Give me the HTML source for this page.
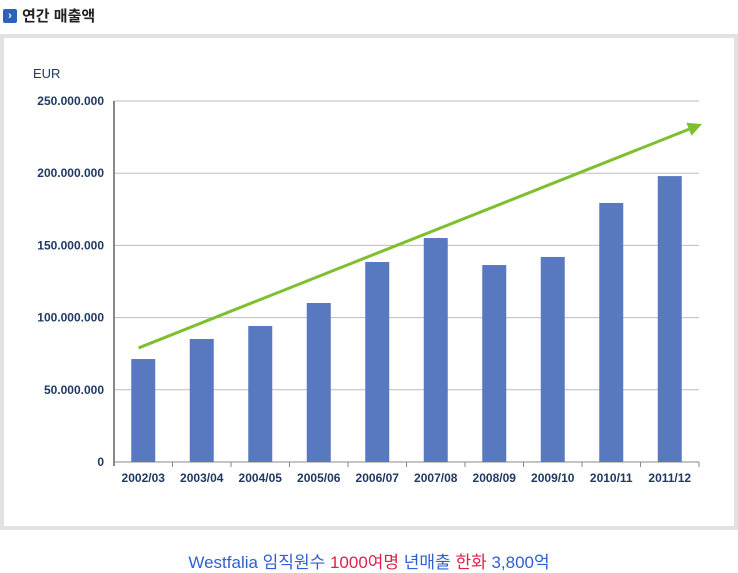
<!DOCTYPE html>
<html><head><meta charset="utf-8"><style>
body{margin:0;width:738px;height:569px;background:#fff;font-family:"Liberation Sans","Noto Sans CJK KR",sans-serif;position:relative;overflow:hidden}
.title{position:absolute;left:3px;top:5px;font-size:15px;font-weight:bold;color:#222;display:flex;align-items:center}
.icon{width:14px;height:14px;background:#2a64b8;border-radius:2px;color:#fff;font-size:11px;line-height:14px;text-align:center;margin-right:5px}
.frame{position:absolute;left:0;top:34px;width:730px;height:488px;border:4px solid #e2e2e2;background:#fff}
.caption{position:absolute;top:548px;width:738px;text-align:center;font-size:17px}
</style></head><body>
<div class="title"><span class="icon">›</span>연간 매출액</div>
<div class="frame"></div>
<svg id="chart" width="738" height="569" style="position:absolute;left:0;top:0"></svg>
<div class="caption"><span style="color:#2f5fd0">Westfalia 임직원수 </span><span style="color:#e0204a">1000여명 </span><span style="color:#2f5fd0">년매출 </span><span style="color:#e0204a">한화 </span><span style="color:#2f5fd0">3,800억</span></div>
<script>
const categories=["2002/03","2003/04","2004/05","2005/06","2006/07","2007/08","2008/09","2009/10","2010/11","2011/12"];
const values=[71.3,85.2,94.2,110.1,138.5,155.1,136.4,142,179.4,198];
const ticks=[0,50,100,150,200,250];
const tickLabels=["0","50.000.000","100.000.000","150.000.000","200.000.000","250.000.000"];
const trendStart=[-0.08,79];
const trendEnd=[9.55,234];
const NS="http://www.w3.org/2000/svg";
const svg=document.getElementById('chart');
const x0=114,x1=699,y0=462,y1=101,maxV=250;
const bw=(x1-x0)/categories.length;
const y=v=>y0-(v/maxV)*(y0-y1);
const xc=i=>x0+bw*(i+0.5);
function mk(t,a,parent){const e=document.createElementNS(NS,t);for(const k in a)e.setAttribute(k,a[k]);(parent||svg).appendChild(e);return e;}
let t=mk('text',{x:33,y:78,'font-size':13,fill:'#1f3864'});t.textContent='EUR';


ticks.forEach((v,i)=>{
  const l=mk('line',{x1:x0,x2:x1,y1:y(v),y2:y(v),stroke:v===0?'#888':'#bdbdbd','stroke-width':1});
  
  
  const tx=mk('text',{x:104,y:y(v)+4,'text-anchor':'end','font-size':12,'font-weight':'bold',fill:'#1f3864'});
  tx.textContent=tickLabels[i];
  
  
});
const ax=mk('line',{x1:x0,x2:x0,y1:y1,y2:y0+4,stroke:'#888','stroke-width':2});


categories.forEach((c,i)=>{
  const r=mk('rect',{x:xc(i)-12,y:y(values[i]),width:24,height:y0-y(values[i]),fill:'#5879bf'});
  
  
  const tk=mk('line',{x1:x0+bw*(i+1),x2:x0+bw*(i+1),y1:y0,y2:y0+5,stroke:'#888'});
  
  
  const tx=mk('text',{x:xc(i),y:y0+20,'text-anchor':'middle','font-size':12,'font-weight':'bold',fill:'#1f3864'});
  tx.textContent=c;
  
  
});
const ax1=xc(trendStart[0]),ay1=y(trendStart[1]),ax2=xc(trendEnd[0]),ay2=y(trendEnd[1]);
const ang=Math.atan2(ay2-ay1,ax2-ax1);
const bx=ax2-14*Math.cos(ang),by=ay2-14*Math.sin(ang);
const tl=mk('line',{x1:ax1,y1:ay1,x2:bx,y2:by,stroke:'#7dbf2e','stroke-width':3});


const px=-Math.sin(ang)*7,py=Math.cos(ang)*7;
const head=mk('polygon',{points:`${ax2},${ay2} ${bx+px},${by+py} ${bx-px},${by-py}`,fill:'#7dbf2e'});


</script>
</body></html>
